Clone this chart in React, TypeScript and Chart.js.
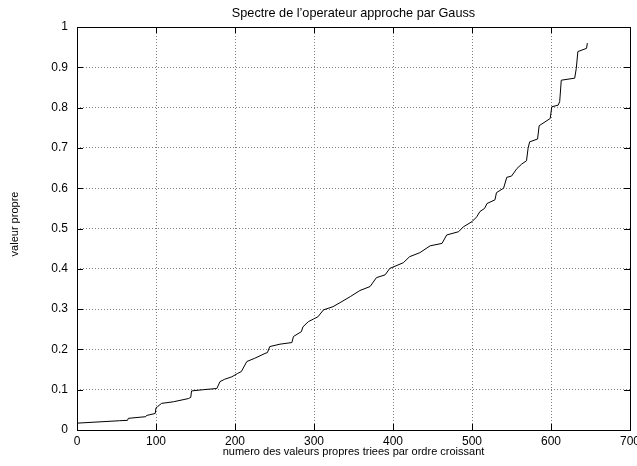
import React, { useEffect, useRef } from 'react';
import { Chart, registerables } from 'chart.js';

Chart.register(...registerables);

const TITLE = 'Spectre de l’operateur approche par Gauss';
const X_TITLE = 'numero des valeurs propres triees par ordre croissant';
const Y_TITLE = 'valeur propre';

// eigenvalue index (x) and eigenvalue (y)
const indices = [
  0, 54, 64, 65, 87, 88, 99, 100, 102, 107, 122, 141, 144, 145, 160, 177, 181, 187, 196, 203,
  208, 215, 225, 238, 241, 244, 257, 272, 274, 284, 286, 293, 299, 305, 312, 324, 333, 346, 358, 371,
  379, 390, 396, 413, 421, 434, 447, 462, 468, 483, 489, 500, 506, 510, 516, 519, 529, 531, 540, 544,
  550, 557, 563, 569, 571, 573, 583, 585, 599, 601, 609, 611, 613, 630, 632, 634, 645, 646,
];
const values = [
  0.017, 0.023, 0.024, 0.029, 0.033, 0.036, 0.041, 0.055, 0.058, 0.066, 0.070, 0.078, 0.081, 0.097, 0.100, 0.103, 0.120, 0.126, 0.132, 0.140,
  0.145, 0.170, 0.178, 0.190, 0.192, 0.207, 0.213, 0.217, 0.232, 0.244, 0.256, 0.269, 0.275, 0.281, 0.298, 0.306, 0.316, 0.331, 0.346, 0.356,
  0.378, 0.385, 0.401, 0.415, 0.430, 0.440, 0.457, 0.463, 0.484, 0.492, 0.504, 0.517, 0.529, 0.542, 0.550, 0.562, 0.571, 0.589, 0.600, 0.627,
  0.630, 0.649, 0.660, 0.668, 0.699, 0.715, 0.722, 0.755, 0.773, 0.802, 0.806, 0.815, 0.868, 0.873, 0.897, 0.939, 0.947, 0.960,
];

const xTicks = [0, 100, 200, 300, 400, 500, 600, 700];
const yTicks = [0, 0.1, 0.2, 0.3, 0.4, 0.5, 0.6, 0.7, 0.8, 0.9, 1];

const FONT = '"Liberation Sans", Arial, Helvetica, sans-serif';

const framePlugin = {
  id: 'gnuplotFrame',
  afterDatasetsDraw(chart: any) {
    const { ctx, chartArea } = chart;
    const { left, right, top, bottom } = chartArea;
    const xs = chart.scales.x;
    const ys = chart.scales.y;
    const L = 6;
    ctx.save();
    ctx.strokeStyle = '#000';
    ctx.lineWidth = 1;
    ctx.beginPath();
    for (const t of xTicks) {
      const px = Math.round(xs.getPixelForValue(t)) + 0.5;
      ctx.moveTo(px, bottom);
      ctx.lineTo(px, bottom - L);
      ctx.moveTo(px, top);
      ctx.lineTo(px, top + L);
    }
    for (const t of yTicks) {
      const py = Math.round(ys.getPixelForValue(t)) + 0.5;
      ctx.moveTo(left, py);
      ctx.lineTo(left + L, py);
      ctx.moveTo(right, py);
      ctx.lineTo(right - L, py);
    }
    ctx.stroke();
    ctx.strokeRect(Math.round(left) + 0.5, Math.round(top) + 0.5, Math.round(right - left), Math.round(bottom - top));
    ctx.fillStyle = '#000';
    ctx.textAlign = 'center';
    ctx.textBaseline = 'middle';
    const cx = (left + right) / 2;
    ctx.font = `12.7px ${FONT}`;
    ctx.fillText(TITLE, cx, 13);
    ctx.font = `11px ${FONT}`;
    ctx.fillText(X_TITLE, cx, 452);
    ctx.translate(15, 224);
    ctx.rotate(-Math.PI / 2);
    ctx.fillText(Y_TITLE, 0, 0);
    ctx.restore();
  },
};

export default function App() {
  const ref = useRef<HTMLCanvasElement | null>(null);

  useEffect(() => {
    if (!ref.current) return;
    const chart = new Chart(ref.current, {
      type: 'line',
      data: {
        datasets: [
          {
            data: indices.map((x, i) => ({ x, y: values[i] })),
            borderColor: '#000',
            borderWidth: 1,
            pointRadius: 0,
            tension: 0,
            fill: false,
          },
        ],
      },
      options: {
        animation: false,
        responsive: false,
        maintainAspectRatio: false,
        layout: { padding: { top: 27, right: 7, left: 0, bottom: 0 } },
        plugins: {
          legend: { display: false },
          title: { display: false },
          tooltip: { enabled: false },
        },
        scales: {
          x: {
            type: 'linear',
            min: 0,
            max: 700,
            afterBuildTicks: (s: any) => {
              s.ticks = xTicks.map((v) => ({ value: v }));
            },
            afterFit: (s: any) => {
              s.height = 36;
              s.paddingLeft = 0;
              s.paddingRight = 0;
            },
            grid: { color: '#808080', lineWidth: 1, drawTicks: false },
            border: { display: false, dash: [1, 2] },
            ticks: {
              color: '#000',
              padding: 4,
              maxRotation: 0,
              autoSkip: false,
              font: { family: FONT, size: 12 },
              callback: (v: any) => String(v),
            },
          },
          y: {
            type: 'linear',
            min: 0,
            max: 1,
            afterBuildTicks: (s: any) => {
              s.ticks = yTicks.map((v) => ({ value: v }));
            },
            afterFit: (s: any) => {
              s.width = 77;
              s.paddingTop = 0;
              s.paddingBottom = 0;
            },
            grid: { color: '#808080', lineWidth: 1, drawTicks: false },
            border: { display: false, dash: [1, 2] },
            ticks: {
              color: '#000',
              padding: 9,
              autoSkip: false,
              font: { family: FONT, size: 12 },
              callback: (v: any) => String(Math.round(Number(v) * 10) / 10),
            },
          },
        },
      },
      plugins: [framePlugin],
    });
    return () => chart.destroy();
  }, []);

  return (
    <div style={{ position: 'fixed', left: 0, top: 0, width: 637, height: 466, background: '#fff' }}>
      <canvas ref={ref} width={637} height={466} />
    </div>
  );
}
